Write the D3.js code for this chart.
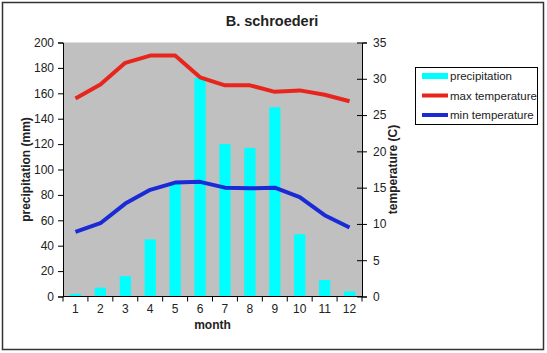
<!DOCTYPE html>
<html lang="en">
<head>
  <meta charset="UTF-8">
  <title>B. schroederi</title>
  <script src="https://d3js.org/d3.v7.min.js"></script>
  <style>
    body { margin: 0; background: #fff; }
    text { font-family: Arial, "Liberation Sans", sans-serif; fill: #222; }
  </style>
</head>
<body>
  <svg width="547" height="353"></svg>

  <script>
    // Data
    const months = [1, 2, 3, 4, 5, 6, 7, 8, 9, 10, 11, 12];
    const precipitation = [2, 7, 16, 45, 90, 172, 120, 117, 149, 49, 13, 4];
    const maxTemp = [27.3, 29.2, 32.2, 33.2, 33.2, 30.2, 29.1, 29.1, 28.2, 28.4, 27.8, 26.9];
    const minTemp = [8.9, 10.1, 12.8, 14.7, 15.7, 15.8, 15.0, 14.9, 15.0, 13.7, 11.2, 9.5];
    const precipTicks = [0, 20, 40, 60, 80, 100, 120, 140, 160, 180, 200];
    const tempTicks = [0, 5, 10, 15, 20, 25, 30, 35];

    const svg = d3.select("svg");

    // Outer chart frame
    svg.append("rect")
      .attr("x", 2.5).attr("y", 2.5)
      .attr("width", 541).attr("height", 347)
      .attr("fill", "#fff")
      .attr("stroke", "#333")
      .attr("stroke-width", 1.5);

    const plot = { left: 63, right: 362, top: 42.5, bottom: 296.5 };

    // Scales
    const x = d3.scaleBand().domain(months).range([plot.left, plot.right]);
    const yP = d3.scaleLinear().domain([0, 200]).range([plot.bottom, plot.top]);
    const yT = d3.scaleLinear().domain([0, 35]).range([plot.bottom, plot.top]);

    // Plot area background
    svg.append("rect")
      .attr("x", plot.left).attr("y", plot.top)
      .attr("width", plot.right - plot.left)
      .attr("height", plot.bottom - plot.top)
      .attr("fill", "#c0c0c0");

    // Bars
    const barW = x.bandwidth() * 0.45;
    svg.append("g").selectAll("rect")
      .data(months)
      .join("rect")
      .attr("x", (d, i) => x(d) + (x.bandwidth() - barW) / 2)
      .attr("y", (d, i) => yP(precipitation[i]))
      .attr("width", barW)
      .attr("height", (d, i) => plot.bottom - yP(precipitation[i]))
      .attr("fill", "#00ffff");

    // Lines
    const line = d3.line()
      .x((d, i) => x(months[i]) + x.bandwidth() / 2)
      .y(d => yT(d));

    svg.append("path")
      .datum(maxTemp)
      .attr("fill", "none")
      .attr("stroke", "#e8251c")
      .attr("stroke-width", 4)
      .attr("stroke-linejoin", "round")
      .attr("d", line);

    svg.append("path")
      .datum(minTemp)
      .attr("fill", "none")
      .attr("stroke", "#1a2bd6")
      .attr("stroke-width", 4)
      .attr("stroke-linejoin", "round")
      .attr("d", line);

    // Left axis
    const leftAxis = svg.append("g")
      .attr("transform", "translate(" + plot.left + ",0)")
      .call(d3.axisLeft(yP).tickValues(precipTicks).tickSize(5).tickPadding(4));
    leftAxis.selectAll("text").style("font-size", "12px");

    // Right axis (cross ticks)
    const rightAxis = svg.append("g")
      .attr("transform", "translate(" + plot.right + ",0)")
      .call(d3.axisRight(yT).tickValues(tempTicks).tickSize(5).tickPadding(6));
    rightAxis.selectAll(".tick line").attr("x1", -5);
    rightAxis.selectAll("text").style("font-size", "12px");

    // Bottom axis, ticks between categories
    const bottomAxis = svg.append("g")
      .attr("transform", "translate(0," + plot.bottom + ")")
      .call(d3.axisBottom(x).tickSize(0).tickPadding(8));
    bottomAxis.select(".domain").remove();
    bottomAxis.append("line")
      .attr("x1", plot.left).attr("x2", plot.right)
      .attr("stroke", "#000");
    bottomAxis.selectAll(".sep")
      .data(d3.range(months.length + 1))
      .join("line")
      .attr("class", "sep")
      .attr("x1", i => plot.left + i * x.step())
      .attr("x2", i => plot.left + i * x.step())
      .attr("y1", 0).attr("y2", 5)
      .attr("stroke", "#000");
    bottomAxis.selectAll("text").style("font-size", "12px");

    svg.selectAll(".domain, .tick line").attr("stroke", "#000");

    // Titles
    svg.append("text")
      .attr("x", 272).attr("y", 26)
      .attr("text-anchor", "middle")
      .style("font-size", "14.5px").style("font-weight", "bold")
      .text("B. schroederi");

    svg.append("text")
      .attr("x", (plot.left + plot.right) / 2).attr("y", 329)
      .attr("text-anchor", "middle")
      .style("font-size", "12px").style("font-weight", "bold")
      .text("month");

    svg.append("text")
      .attr("transform", "translate(30," + (plot.top + plot.bottom) / 2 + ") rotate(-90)")
      .attr("text-anchor", "middle")
      .style("font-size", "12px").style("font-weight", "bold")
      .text("precipitation (mm)");

    svg.append("text")
      .attr("transform", "translate(397," + (plot.top + plot.bottom) / 2 + ") rotate(-90)")
      .attr("text-anchor", "middle")
      .style("font-size", "12px").style("font-weight", "bold")
      .text("temperature (C)");

    // Legend
    const legendItems = [
      { label: "precipitation", color: "#00ffff", h: 6 },
      { label: "max temperature", color: "#e8251c", h: 4 },
      { label: "min temperature", color: "#1a2bd6", h: 4 }
    ];
    const legend = svg.append("g");
    legend.append("rect")
      .attr("x", 415.5).attr("y", 67.5)
      .attr("width", 122).attr("height", 57)
      .attr("fill", "#fff")
      .attr("stroke", "#000");
    const li = legend.selectAll("g.item")
      .data(legendItems)
      .join("g")
      .attr("class", "item")
      .attr("transform", (d, i) => "translate(422," + (76 + i * 19.5) + ")");
    li.append("rect")
      .attr("x", 0).attr("y", d => -d.h / 2)
      .attr("width", 26).attr("height", d => d.h)
      .attr("fill", d => d.color);
    li.append("text")
      .attr("x", 28).attr("y", 4)
      .style("font-size", "11.5px")
      .text(d => d.label);
  </script>
</body>
</html>
